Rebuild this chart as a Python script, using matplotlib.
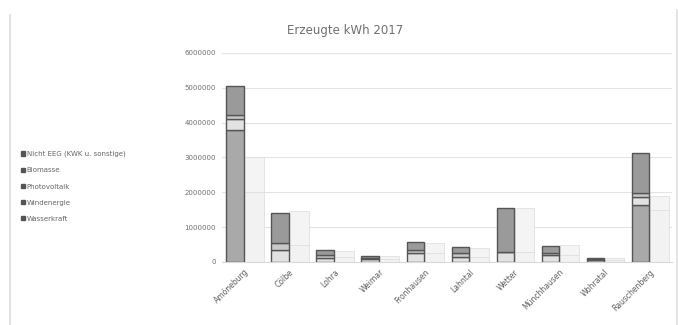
import matplotlib.pyplot as plt
import numpy as np
from matplotlib.patches import Patch
from matplotlib.lines import Line2D

# ------------------------- Data -------------------------
categories = ["Amöneburg", "Cölbe", "Lohra", "Weimar", "Fronhausen",
              "Lahntal", "Wetter", "Münchhausen", "Wohratal", "Rauschenberg"]

# stacked from bottom to top
wasserkraft = [0, 0, 0, 0, 0, 0, 0, 0, 0, 0]
windenergie = [3800000, 0, 0, 0, 0, 0, 0, 0, 0, 1640000]
photovoltaik = [300000, 350000, 120000, 80000, 250000, 150000, 300000, 200000, 60000, 230000]
biomasse = [120000, 200000, 80000, 40000, 100000, 100000, 0, 50000, 20000, 110000]
nicht_eeg = [830000, 860000, 140000, 60000, 230000, 180000, 1250000, 210000, 20000, 1150000]

# pale comparison bars next to each group
vergleich_unten = [2000000, 500000, 150000, 80000, 250000, 150000, 300000, 200000, 50000, 1500000]
vergleich_oben = [1000000, 950000, 170000, 100000, 300000, 250000, 1250000, 300000, 60000, 400000]

series = [
    ("Wasserkraft", wasserkraft, "#7a7a7a"),
    ("Windenergie", windenergie, "#a9a9a9"),
    ("Photovoltaik", photovoltaik, "#e2e2e2"),
    ("Biomasse", biomasse, "#c9c9c9"),
    ("Nicht EEG (KWK u. sonstige)", nicht_eeg, "#9a9a9a"),
]

# ------------------------- Plot -------------------------
fig = plt.figure(figsize=(6.78, 3.25), dpi=100)
ax = fig.add_axes([0.327, 0.194, 0.664, 0.643])

x = np.arange(len(categories))
w = 0.39
bottom = np.zeros(len(categories))
for name, vals, col in series:
    ax.bar(x - 0.2, vals, w, bottom=bottom, color=col, edgecolor="#555555",
           linewidth=1.0, zorder=3)
    bottom += np.array(vals)

ax.bar(x + 0.22, vergleich_unten, 0.43, color="#f2f2f2", edgecolor="#e0e0e0",
       linewidth=0.6, zorder=2)
ax.bar(x + 0.22, vergleich_oben, 0.43, bottom=vergleich_unten, color="#f4f4f4",
       edgecolor="#e0e0e0", linewidth=0.6, zorder=2)

ax.set_xlim(-0.5, len(categories) - 0.5)
ax.set_ylim(0, 6000000)
ax.set_yticks(np.arange(0, 6000001, 1000000))
ax.set_yticklabels([f"{v}" for v in range(0, 6000001, 1000000)],
                   fontsize=5, color="#6f6f6f")
ax.set_xticks(x)
ax.set_xticklabels(categories, rotation=45, ha="right", rotation_mode="anchor",
                   fontsize=5.5, color="#5f5f5f")
ax.tick_params(length=0, pad=4)
ax.grid(axis="y", color="#e3e3e3", linewidth=0.8, zorder=0)
for s in ["top", "right", "left"]:
    ax.spines[s].set_visible(False)
ax.spines["bottom"].set_color("#d9d9d9")

fig.text(0.509, 0.905, "Erzeugte kWh 2017", ha="center", va="center",
         fontsize=8.5, color="#6f6f6f")

handles = [Patch(facecolor="#555555", edgecolor="#555555", label=n)
           for n, _, _ in reversed(series)]
fig.legend(handles=handles, loc="upper left", bbox_to_anchor=(0.022, 0.555),
           frameon=False, fontsize=5, labelcolor="#666666",
           handlelength=0.6, handleheight=0.6, handletextpad=0.2,
           labelspacing=1.45)

# side edges of the chart frame
fig.add_artist(Line2D([10 / 678, 10 / 678], [0, 1 - 15 / 325], color="#dedede",
                      linewidth=1.2, transform=fig.transFigure))
fig.add_artist(Line2D([677 / 678, 677 / 678], [0, 1 - 10 / 325], color="#dedede",
                      linewidth=1.2, transform=fig.transFigure))

fig.savefig("out.png", dpi=100)
